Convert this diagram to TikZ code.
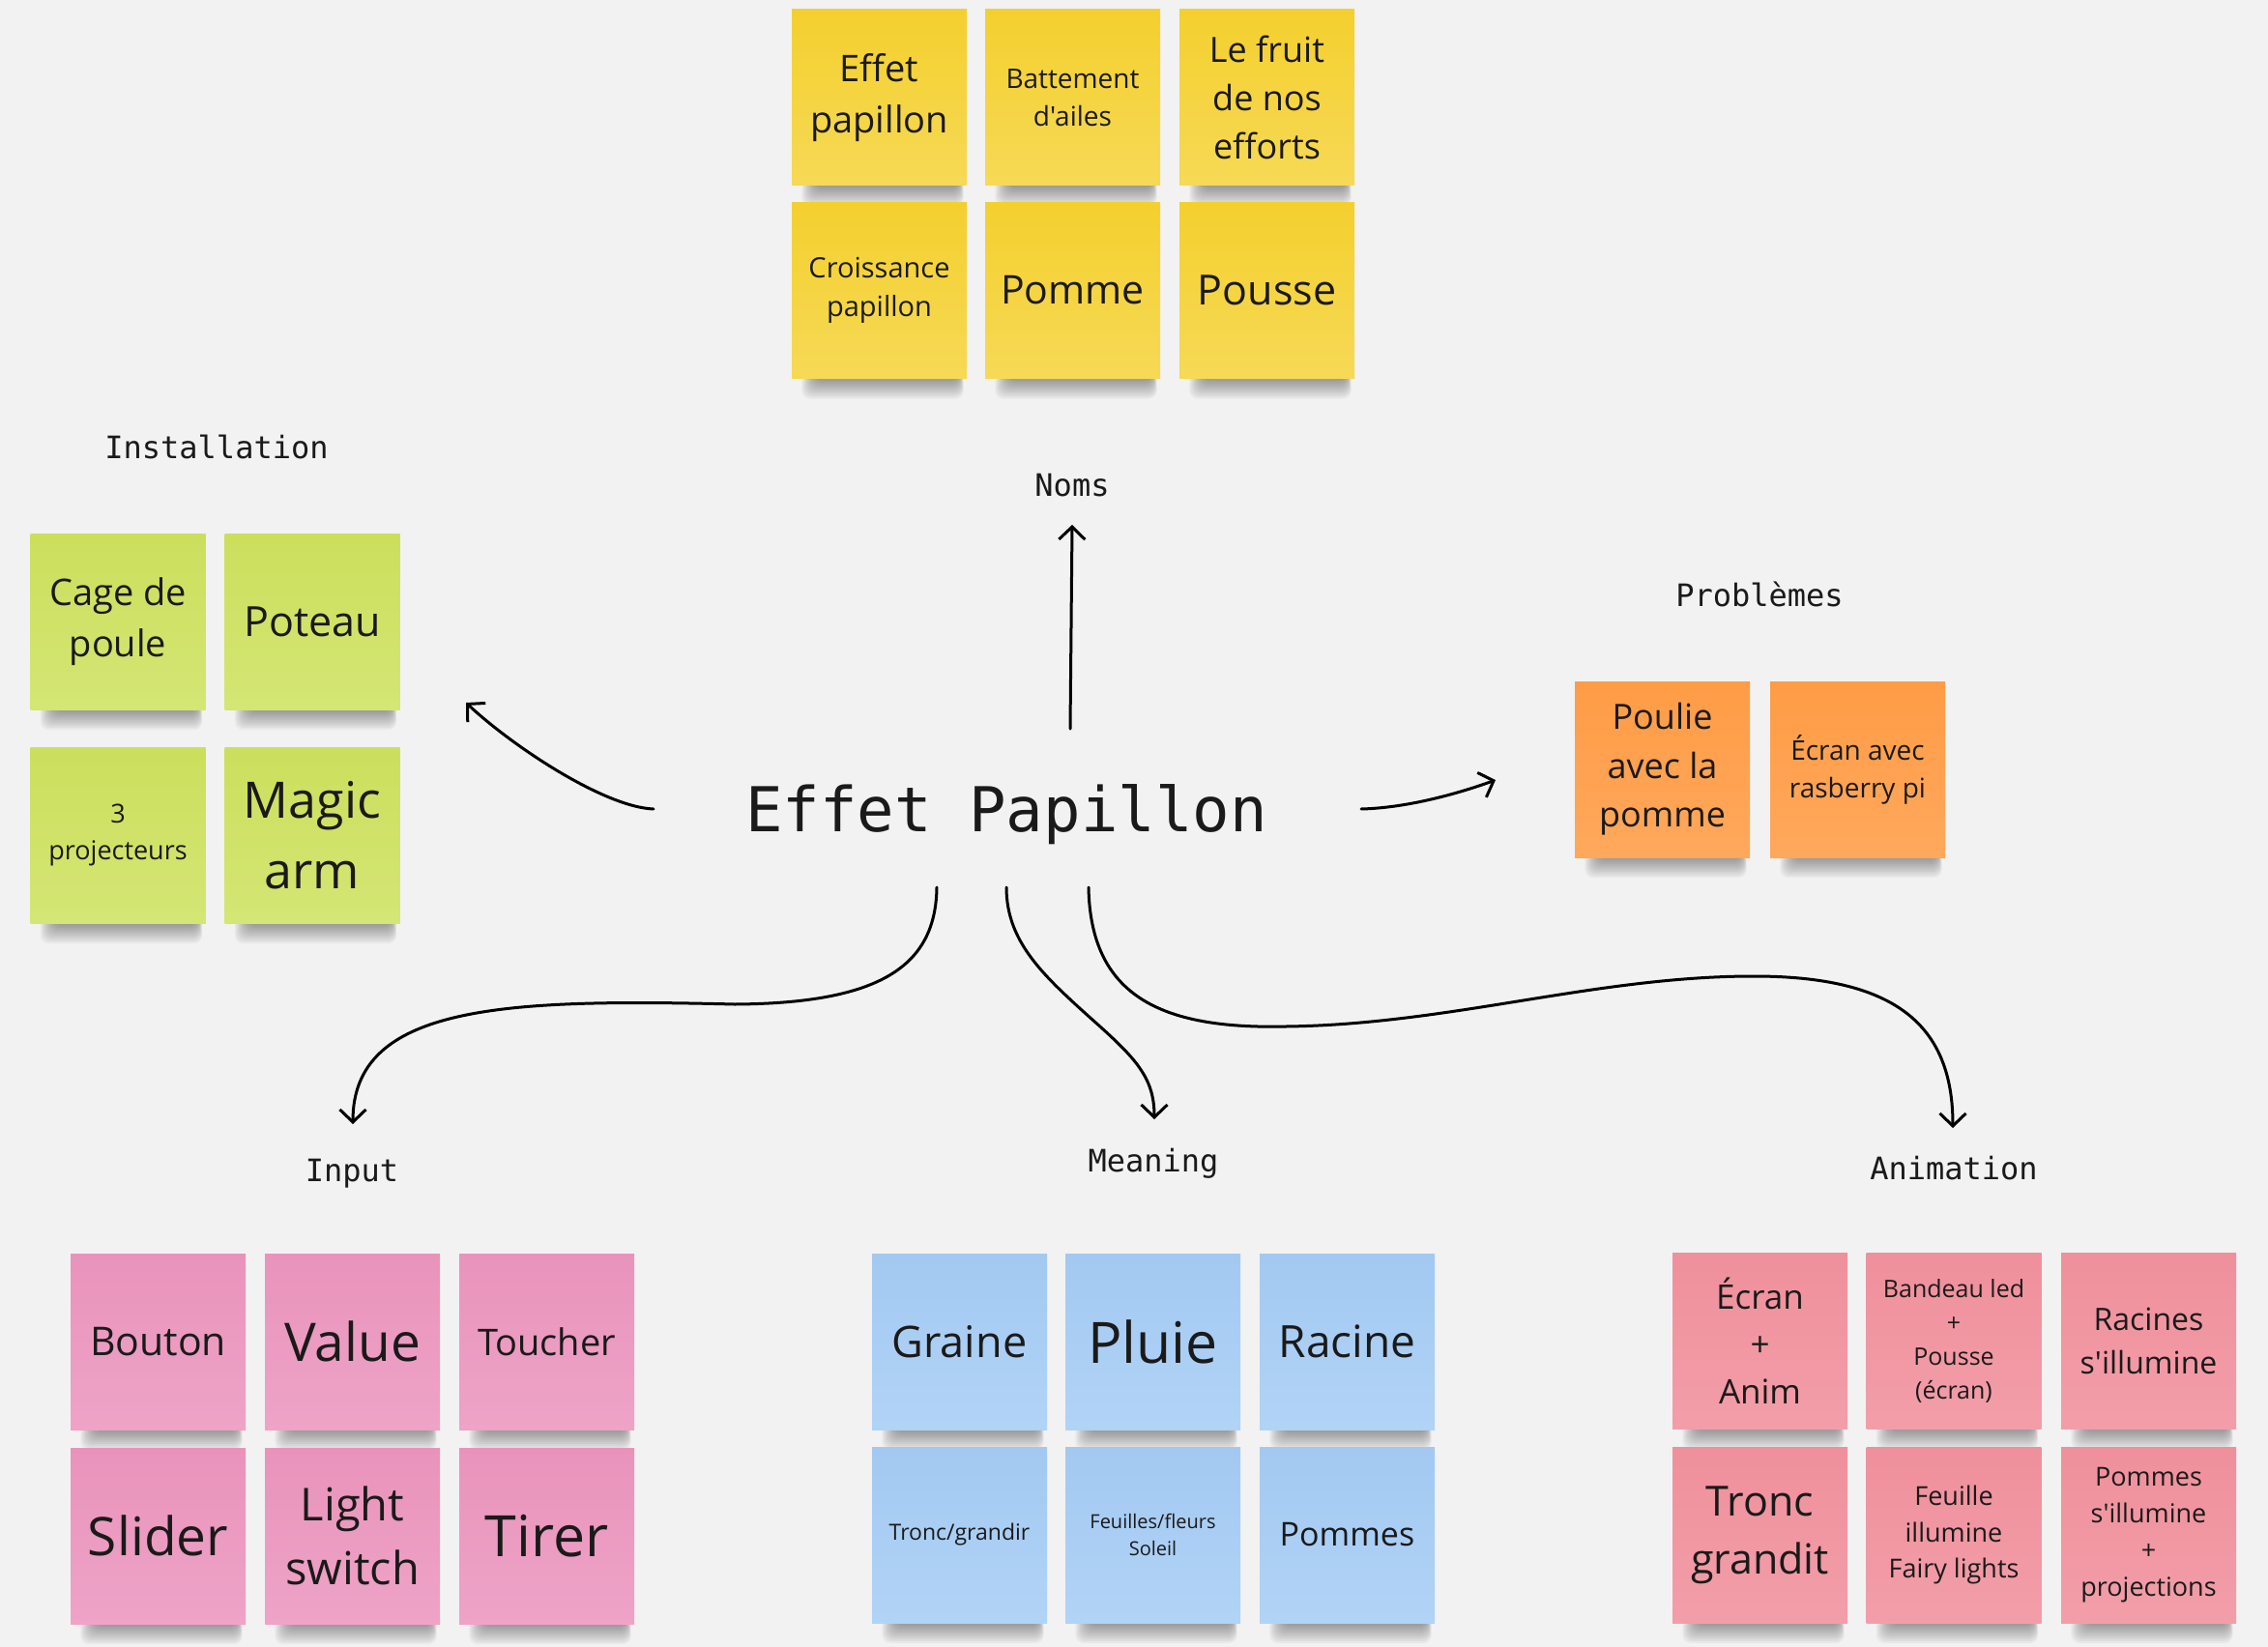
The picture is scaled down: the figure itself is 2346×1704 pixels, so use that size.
\documentclass[tikz,border=0pt]{standalone}
\usepackage{fontspec}
\newfontfamily\notefont{Open Sans}
\newfontfamily\monofont{DejaVu Sans Mono}
\usepackage{tikz}
\usetikzlibrary{arrows.meta}
\usetikzlibrary{calc}

\definecolor{bgcol}{HTML}{F2F2F2}
\definecolor{inkcol}{HTML}{1A1A1A}
\definecolor{yellowA}{HTML}{F4D02E}
\definecolor{yellowB}{HTML}{F6D956}
\definecolor{greenA}{HTML}{CCDF5C}
\definecolor{greenB}{HTML}{D4E674}
\definecolor{orangeA}{HTML}{FF9C46}
\definecolor{orangeB}{HTML}{FFA85C}
\definecolor{pinkA}{HTML}{E993BB}
\definecolor{pinkB}{HTML}{EEA3C7}
\definecolor{blueA}{HTML}{A3C9F1}
\definecolor{blueB}{HTML}{B1D3F6}
\definecolor{redA}{HTML}{EF909C}
\definecolor{redB}{HTML}{F29EA9}

\pgfdeclarelayer{paper}
\pgfdeclarelayer{bg}
\pgfsetlayers{paper,bg,main}

% font size with its line spacing
\newcommand\nsz[1]{\fontsize{#1}{\dimexpr #1pt*14/10\relax}\selectfont}

\begin{document}
\begin{tikzpicture}[line cap=round,line join=round,x=1pt,y=-1pt,
  >={Straight Barb[length=13pt,width=27pt]}]
  \tikzset{
  % a sticky note
  sticky/.style={minimum width=181pt, minimum height=182pt, inner sep=0pt,
    align=center, text=inkcol, font=\notefont},
  fs/.style={font=\notefont\nsz{#1}},
  yellownote/.style={sticky, top color=yellowA, bottom color=yellowB},
  greennote/.style={sticky, top color=greenA, bottom color=greenB},
  orangenote/.style={sticky, top color=orangeA, bottom color=orangeB},
  pinknote/.style={sticky, top color=pinkA, bottom color=pinkB},
  bluenote/.style={sticky, top color=blueA, bottom color=blueB},
  rednote/.style={sticky, top color=redA, bottom color=redB},
  shadowlayer/.style={fill=black, opacity=0.04, rounded corners=9pt},
  % group titles
  grouplabel/.style={anchor=base, text=inkcol, font=\monofont\fontsize{32}{38}\selectfont},
  arr/.style={->, line width=3pt, black},
}

\begin{pgfonlayer}{paper}
\fill[bgcol] (0,0) rectangle (2346,1704);
\end{pgfonlayer}
\useasboundingbox (0,0) rectangle (2346,1704);

\node[anchor=base, text=inkcol, font=\monofont\fontsize{64}{76}\selectfont] (title) at (1041,860) {Effet Papillon};

% Noms
\node[grouplabel] (noms) at (1109,513) {Noms};
\node[yellownote, fs=38] (n1) at (909.5,101) {Effet\\papillon};
\node[yellownote, fs=28] (n2) at (1109.5,101) {Battement\\d'ailes};
\node[yellownote, fs=36] (n3) at (1310.5,101) {Le fruit\\de nos\\efforts};
\node[yellownote, fs=29] (n4) at (909.5,300.5) {Croissance\\papillon};
\node[yellownote, fs=41] (n5) at (1109.5,300.5) {Pomme};
\node[yellownote, fs=43] (n6) at (1310.5,300.5) {Pousse};

% Installation
\node[grouplabel] (install) at (224,474) {Installation};
\node[greennote, fs=38] (i1) at (122,643) {Cage de\\poule};
\node[greennote, fs=43] (i2) at (323,643) {Poteau};
\node[greennote, fs=27] (i3) at (122,864) {3\\projecteurs};
\node[greennote, fs=52] (i4) at (323,864) {Magic\\arm};

% Problemes
\node[grouplabel] (probl) at (1820,627) {Problèmes};
\node[orangenote, fs=36] (p1) at (1719.5,796) {Poulie\\avec la\\pomme};
\node[orangenote, fs=28] (p2) at (1921.5,796) {Écran avec\\rasberry pi};

% Input
\node[grouplabel] (input) at (364,1222) {Input};
\node[pinknote, fs=41] (in1) at (163.5,1388) {Bouton};
\node[pinknote, fs=55] (in2) at (364.5,1388) {Value};
\node[pinknote, fs=38] (in3) at (565.5,1388) {Toucher};
\node[pinknote, fs=55] (in4) at (163.5,1589) {Slider};
\node[pinknote, fs=47] (in5) at (364.5,1589) {Light\\switch};
\node[pinknote, fs=59] (in6) at (565.5,1589) {Tirer};

% Meaning
\node[grouplabel] (meaning) at (1193,1212) {Meaning};
\node[bluenote, fs=45] (m1) at (992.5,1388) {Graine};
\node[bluenote, fs=59] (m2) at (1192.5,1388) {Pluie};
\node[bluenote, fs=46] (m3) at (1393.5,1388) {Racine};
\node[bluenote, fs=23] (m4) at (992.5,1588) {Tronc/grandir};
\node[bluenote, fs=20] (m5) at (1192.5,1588) {Feuilles/fleurs\\Soleil};
\node[bluenote, fs=34] (m6) at (1393.5,1588) {Pommes};

% Animation
\node[grouplabel] (anim) at (2021,1220) {Animation};
\node[rednote, fs=35] (a1) at (1820.5,1387.5) {Écran\\+\\Anim};
\node[rednote, fs=25] (a2) at (2021,1387.5) {Bandeau led\\+\\Pousse\\(écran)};
\node[rednote, fs=32] (a3) at (2222.5,1387.5) {Racines\\s'illumine};
\node[rednote, fs=43] (a4) at (1820.5,1588) {Tronc\\grandit};
\node[rednote, fs=27] (a5) at (2021,1588) {Feuille\\illumine\\Fairy lights};
\node[rednote, fs=27] (a6) at (2222.5,1588) {Pommes\\s'illumine\\+\\projections};

% soft shadows under the notes
\begin{pgfonlayer}{bg}
\foreach \nn in {n1,n2,n3,n4,n5,n6,i1,i2,i3,i4,p1,p2,in1,in2,in3,in4,in5,in6,
    m1,m2,m3,m4,m5,m6,a1,a2,a3,a4,a5,a6}
  \foreach \k in {0,...,9}
    \fill[shadowlayer] ($(\nn.south west)+(24-1.5*\k,-20)$)
      rectangle ($(\nn.south east)+(-8+0.5*\k,3+2*\k)$);
\end{pgfonlayer}

% arrow ends
\coordinate (s-noms) at (1107,754);
\coordinate (e-noms) at (1109,543);
\coordinate (s-install) at (676,837);
\coordinate (e-install) at (482,727);
\coordinate (s-probl) at (1408,837);
\coordinate (e-probl) at (1547,807);
\coordinate (s-input) at (969,918);
\coordinate (e-input) at (365,1163);
\coordinate (s-meaning) at (1041,918);
\coordinate (e-meaning) at (1194,1158);
\coordinate (s-anim) at (1126,918);
\coordinate (e-anim) at (2020,1167);

\draw[arr] (s-noms) -- (e-noms);
\draw[arr] (s-install) .. controls (625,835) and (530,772) .. (e-install);
\draw[arr] (s-probl) .. controls (1450,836) and (1500,824) .. (e-probl);
\draw[arr] (s-input) .. controls (968,1000) and (910,1038) .. (760,1039)
  .. controls (520,1033) and (365,1040) .. (e-input);
\draw[arr] (s-meaning) .. controls (1041,975) and (1080,1010) .. (1130,1055)
  .. controls (1175,1095) and (1194,1115) .. (e-meaning);
\draw[arr] (s-anim) .. controls (1128,1030) and (1200,1065) .. (1330,1062)
  .. controls (1500,1060) and (1650,1010) .. (1814,1010)
  .. controls (1960,1010) and (2020,1060) .. (e-anim);
\end{tikzpicture}
\end{document}
